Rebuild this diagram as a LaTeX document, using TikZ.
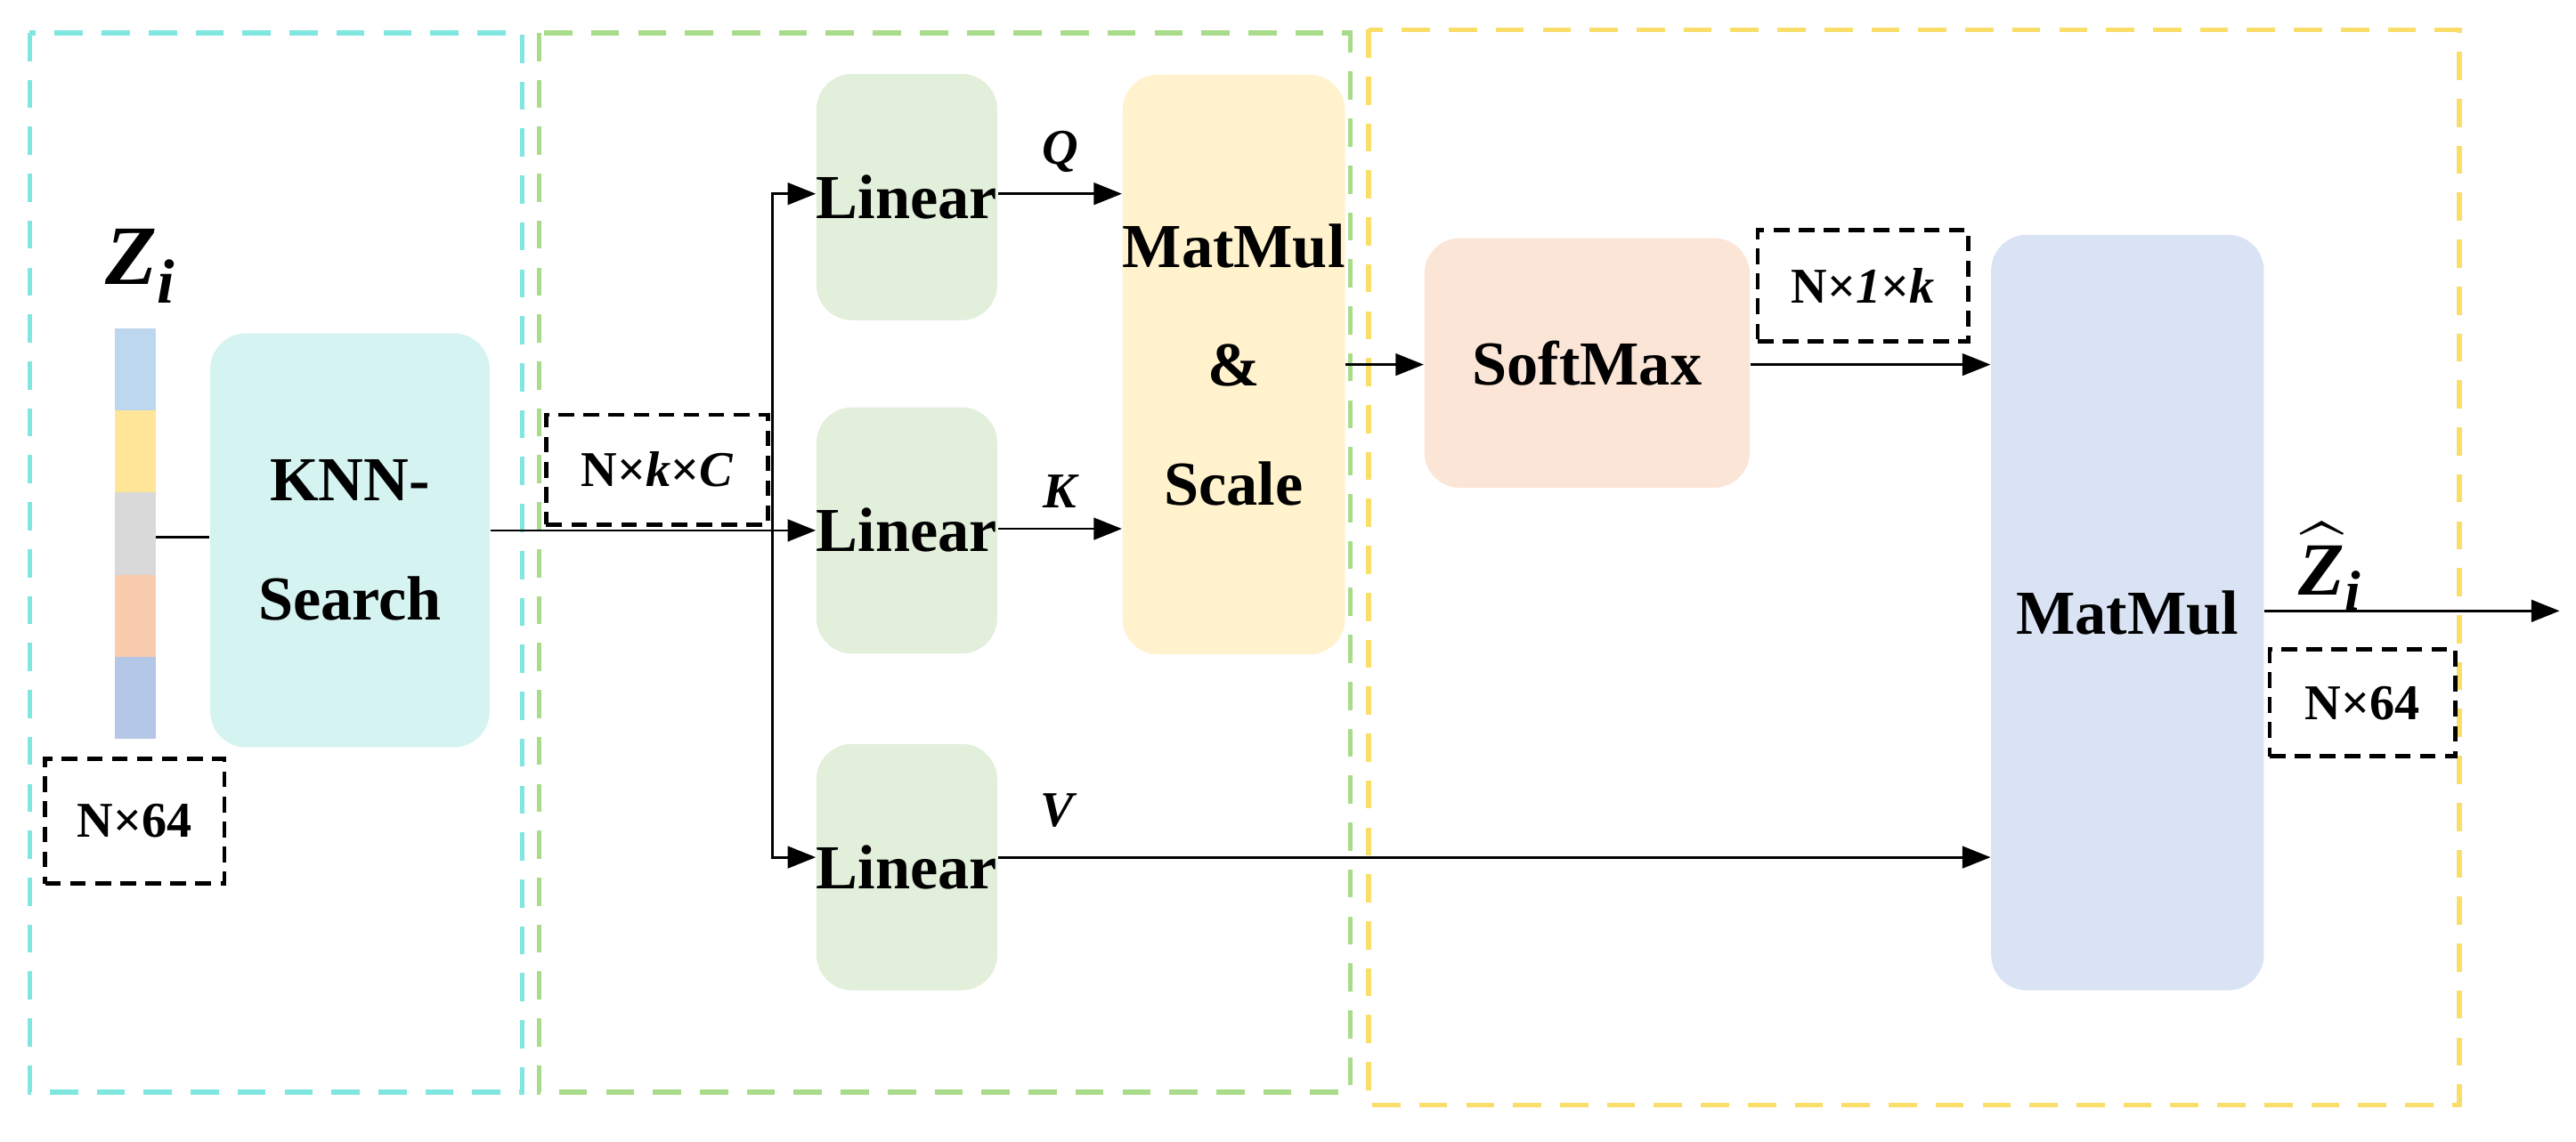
\documentclass[tikz,border=0pt]{standalone}
\usepackage{amsmath}
\usepackage{fontspec}
\setmainfont{Liberation Serif}
\usetikzlibrary{arrows.meta}
\begin{document}
\def\u{0.01845cm}
\begin{tikzpicture}[x=0.01845cm,y=-0.01845cm,
 blk/.style={draw=none,rounded corners=0.4cm,font=\fontsize{20}{24}\selectfont\bfseries,align=center,inner sep=0pt},
 dim/.style={draw=black,dashed,line width=1.3pt,dash pattern=on 5pt off 3pt,font=\fontsize{16}{19}\selectfont\bfseries,inner sep=0pt},
 reg/.style={line width=1.5pt,dash pattern=on 9pt off 6pt},
 arr/.style={-{Triangle[length=9pt,width=7pt]},line width=0.8pt},
 ln/.style={line width=0.8pt}]
\useasboundingbox (0,0) rectangle (1568,695);
\definecolor{cy}{HTML}{7FE6E0}\definecolor{gr}{HTML}{A9DC8A}\definecolor{ye}{HTML}{FADE6A}
\draw[reg,cy] (18,20) rectangle (318,665);
\draw[reg,gr] (328,20) rectangle (822,665);
\draw[reg,ye] (833,18) rectangle (1497,673);
% Zi bar
\fill[fill={rgb,255:red,189;green,215;blue,238}] (70,200) rectangle (95,250);
\fill[fill={rgb,255:red,255;green,230;blue,153}] (70,250) rectangle (95,300);
\fill[fill={rgb,255:red,217;green,217;blue,217}] (70,300) rectangle (95,350);
\fill[fill={rgb,255:red,248;green,203;blue,173}] (70,350) rectangle (95,400);
\fill[fill={rgb,255:red,180;green,199;blue,231}] (70,400) rectangle (95,450);
\coordinate (bar) at (95,327);
\node[font=\fontsize{27}{30}\selectfont\bfseries\itshape] (zi) at (85,162) {Z\raisebox{-6pt}{\fontsize{20}{22}\selectfont i}};
\node[dim,minimum width=109*\u,minimum height=76*\u] (d1) at (82,500) {N×64};
\node[blk,fill={rgb,255:red,213;green,243;blue,240},minimum width=170*\u,minimum height=252*\u] (knn) at (213,329) {KNN-\\[14pt]Search};
\draw[ln] (bar) -- (knn.west|-bar);
\node[dim,minimum width=135*\u,minimum height=67*\u] (d2) at (400,286) {N×\textit{k}×\textit{C}};
\tikzset{lin/.style={blk,fill={rgb,255:red,226;green,239;blue,218},minimum width=110*\u,minimum height=150*\u}}
\node[lin] (l1) at (552,120) {Linear};
\node[lin] (l2) at (552,323) {Linear};
\node[lin] (l3) at (552,528) {Linear};
\coordinate (br) at (470,323);
\draw[ln] (knn.east|-br) -- (br);
\draw[arr] (br) |- (l1.west|-0,118);
\draw[arr] (br) -- (l2.west);
\draw[arr] (br) |- (l3.west|-0,522);
\node[blk,fill={rgb,255:red,255;green,242;blue,204},minimum width=132*\u,minimum height=353*\u] (mm1) at (751,222) {MatMul\\[14pt]\&\\[14pt]Scale};
\draw[arr] (l1.east|-0,118) -- (mm1.west|-0,118) node[midway,above=3pt,font=\fontsize{16}{19}\selectfont\bfseries\itshape] {Q};
\draw[arr] (l2.east|-0,322) -- (mm1.west|-0,322) node[midway,above=3pt,font=\fontsize{16}{19}\selectfont\bfseries\itshape] {K};
\node[blk,fill={rgb,255:red,251;green,229;blue,214},minimum width=198*\u,minimum height=152*\u] (sm) at (966,221) {SoftMax};
\draw[arr] (mm1.east|-0,222) -- (sm.west|-0,222);
\node[dim,minimum width=128*\u,minimum height=68*\u] (d3) at (1134,174) {N×\textit{1}×\textit{k}};
\node[blk,fill={rgb,255:red,218;green,227;blue,243},minimum width=166*\u,minimum height=460*\u] (mm2) at (1295,373) {MatMul};
\draw[arr] (sm.east|-0,222) -- (mm2.west|-0,222);
\draw[arr] (l3.east|-0,522) -- (mm2.west|-0,522) node[pos=0.06,above=6pt,font=\fontsize{16}{19}\selectfont\bfseries\itshape] {V};
\coordinate (out) at (1558,372);
\draw[arr] (mm2.east|-out) -- (out);
\node[font=\fontsize{24}{28}\selectfont\bfseries\itshape] (zh) at (1418,345) {$\widehat{\text{\bfseries\itshape Z}}$\raisebox{-5pt}{\fontsize{18}{20}\selectfont i}};
\node[dim,minimum width=113*\u,minimum height=65*\u] (d4) at (1438,428) {N×64};
\end{tikzpicture}
\end{document}
